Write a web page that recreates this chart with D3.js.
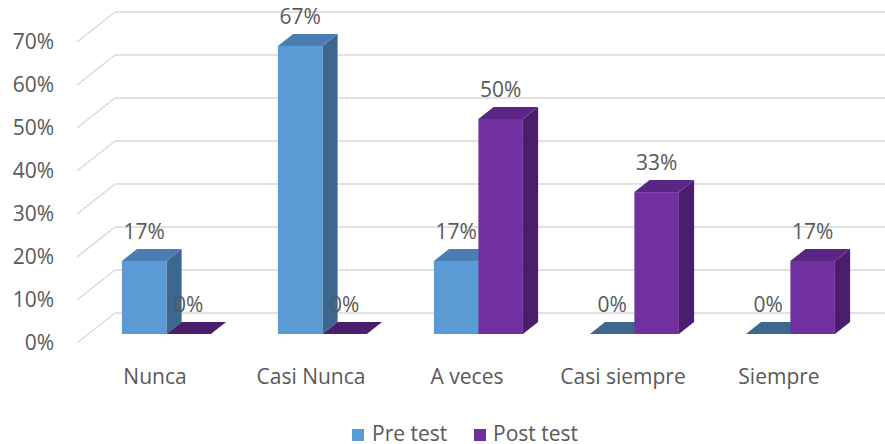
<!DOCTYPE html>
<html>
<head>
<meta charset="utf-8">
<script src="https://cdn.jsdelivr.net/npm/d3@7"></script>
<style>
  html, body { margin: 0; padding: 0; background: #fff; overflow: hidden; }
  text { font-family: "Open Sans", sans-serif; fill: #595959; }
</style>
</head>
<body>
<div id="chart"></div>
<script>
// datos del gráfico
const categories = ['Nunca', 'Casi Nunca', 'A veces', 'Casi siempre', 'Siempre'];
const seriesNames = ['Pre test', 'Post test'];
const preTest = [0.17, 0.67, 0.17, 0, 0];
const postTest = [0, 0, 0.50, 0.33, 0.17];
const tickValues = [0, 0.1, 0.2, 0.3, 0.4, 0.5, 0.6, 0.7];
const labelsPre = ['17%', '67%', '17%', '0%', '0%'];
const labelsPost = ['0%', '0%', '50%', '33%', '17%'];

const width = 885, height = 444;
const floorY = 343;            // línea base frontal
const depthX = 38, depthY = 30; // desplazamiento oblicuo
const d0 = 0.3, d1 = 0.7;       // profundidad de las barras
const fs = 21;

const colors = {
  'Pre test': { front: '#5B9BD5', side: '#3C6890', top: '#4A7EB3' },
  'Post test': { front: '#7030A0', side: '#4A1E6B', top: '#5A2585' }
};

const svg = d3.select('#chart').append('svg')
  .attr('width', width).attr('height', height);

const x = d3.scaleBand().domain(categories).range([77, 857]);
const xs = d3.scaleBand().domain(seriesNames)
  .range([33.5, x.bandwidth() - 33.5]);
const y = d3.scaleLinear().domain([0, 0.7]).range([0, 301]);

// proyección oblicua
const proj = (px, v, d) => [px + depthX * d, floorY - y(v) - depthY * d];

// paredes: líneas de cuadrícula
const grid = svg.append('g');
tickValues.forEach(t => {
  const a = proj(x.range()[0], t, 0);
  const b = proj(x.range()[0], t, 1);
  grid.append('line')
    .attr('x1', a[0]).attr('y1', a[1]).attr('x2', b[0]).attr('y2', b[1])
    .attr('stroke', '#D9D9D9').attr('stroke-width', 1.5);
  grid.append('line')
    .attr('x1', b[0]).attr('y1', b[1]).attr('x2', width).attr('y2', b[1])
    .attr('stroke', '#D9D9D9').attr('stroke-width', 1.5);
});

// eje Y
svg.append('g').selectAll('text')
  .data(tickValues)
  .join('text')
  .attr('x', 54)
  .attr('y', d => proj(0, d, 0)[1])
  .attr('dy', '0.35em')
  .attr('text-anchor', 'end')
  .attr('font-size', fs)
  .text(d => d3.format('.0%')(d));

// eje X
svg.append('g').selectAll('text')
  .data(categories)
  .join('text')
  .attr('x', d => x(d) + x.bandwidth() / 2)
  .attr('y', 384)
  .attr('text-anchor', 'middle')
  .attr('font-size', fs)
  .text(d => d);

const poly = pts => pts.map(p => p.join(',')).join(' ');

// barras 3D
const bars = svg.append('g');
categories.forEach((c, i) => {
  [['Pre test', preTest[i], labelsPre[i]], ['Post test', postTest[i], labelsPost[i]]].forEach(([s, v, lab]) => {
    const xl = x(c) + xs(s), xr = xl + xs.bandwidth();
    const col = colors[s];
    const g = bars.append('g');
    if (v > 0) {
      g.append('polygon').attr('fill', col.side).attr('points',
        poly([proj(xr, 0, d0), proj(xr, 0, d1), proj(xr, v, d1), proj(xr, v, d0)]));
    }
    g.append('polygon').attr('fill', v > 0 ? col.top : col.side).attr('points',
      poly([proj(xl, v, d0), proj(xr, v, d0), proj(xr, v, d1), proj(xl, v, d1)]));
    if (v > 0) {
      const p = proj(xl, v, d0), q = proj(xr, 0, d0);
      g.append('rect')
        .attr('x', p[0]).attr('y', p[1])
        .attr('width', q[0] - p[0]).attr('height', q[1] - p[1])
        .attr('fill', col.front);
    }
    const lp = proj((xl + xr) / 2, v, d1);
    g.append('text')
      .attr('x', lp[0] - depthX * (d1 - d0))
      .attr('y', lp[1] - 10)
      .attr('text-anchor', 'middle')
      .attr('font-size', fs)
      .text(lab);
  });
});

// leyenda
const legend = svg.append('g');
const legendItems = [
  { name: 'Pre test', sx: 352, tx: 372 },
  { name: 'Post test', sx: 474, tx: 493 }
];
legendItems.forEach(d => {
  legend.append('rect')
    .attr('x', d.sx).attr('y', 429).attr('width', 12).attr('height', 12)
    .attr('fill', colors[d.name].front);
  legend.append('text')
    .attr('x', d.tx).attr('y', 441)
    .attr('font-size', fs)
    .text(d.name);
});
</script>
</body>
</html>
